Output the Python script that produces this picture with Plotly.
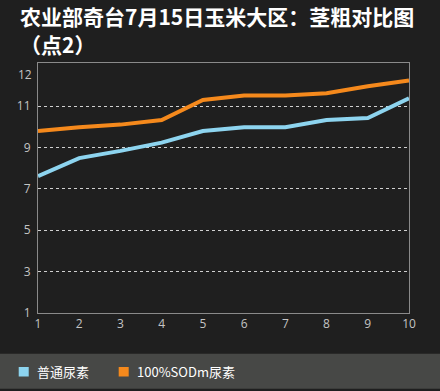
import plotly.graph_objects as go

x_points = [1, 2, 3, 4, 5, 6, 7, 8, 9, 10]
normal_urea = [7.62, 8.49, 8.84, 9.24, 9.80, 9.98, 9.98, 10.33, 10.43, 11.38]
sod_urea = [9.80, 9.98, 10.11, 10.33, 11.30, 11.52, 11.52, 11.63, 11.97, 12.25]
series_names = ["普通尿素", "100%SODm尿素"]
y_ticks = [1, 3, 5, 7, 9, 11]
y_top_label = "12"
title_line1 = "农业部奇台7月15日玉米大区：茎粗对比图"
title_line2 = "（点2）"

BLUE = "#8dd4ef"
ORANGE = "#f5891c"
BG = "#1f1f1f"
TICK = "#c4c4c4"
colors = [BLUE, ORANGE]

fig = go.Figure()
for ys, col, name in zip([normal_urea, sod_urea], colors, series_names):
    fig.add_trace(go.Scatter(x=x_points, y=ys, mode="lines", name=name,
                             line=dict(color=col, width=4), showlegend=False))

# manual legend (squares + labels) in the bottom band
legend_x = [(-0.052, -0.0085), (0.2175, 0.261)]
shapes = [dict(type="rect", xref="paper", yref="paper",
               x0=-0.2, x1=1.2, y0=-0.303, y1=-0.163,
               fillcolor="#474846", line=dict(width=0), layer="below")]
annotations = []
for (sx, tx), col, name in zip(legend_x, colors, series_names):
    shapes.append(dict(type="rect", xref="paper", yref="paper",
                       x0=sx, x1=sx + 0.027, y0=-0.254, y1=-0.216,
                       fillcolor=col, line=dict(width=0)))
    annotations.append(dict(text=name, xref="paper", yref="paper", x=tx, y=-0.2336,
                            xanchor="left", yanchor="middle", showarrow=False,
                            font=dict(family="Noto Sans CJK SC", size=13, color="#ffffff")))

annotations += [
    dict(text=title_line1, xref="paper", yref="paper", x=-0.05, y=1.0,
         xanchor="left", yanchor="bottom", yshift=31, showarrow=False, borderpad=0,
         font=dict(family="Noto Sans CJK SC", size=21, color="#ffffff", weight="bold")),
    dict(text=title_line2, xref="paper", yref="paper", x=-0.05, y=1.0,
         xanchor="left", yanchor="bottom", yshift=3, showarrow=False, borderpad=0,
         font=dict(family="Noto Sans CJK SC", size=21, color="#ffffff", weight="bold")),
    dict(text=y_top_label, xref="paper", yref="paper", x=0, y=1.0,
         xanchor="right", yanchor="top", xshift=-4, yshift=-1, showarrow=False,
         font=dict(family="Open Sans", size=12, color=TICK)),
]

fig.update_layout(
    width=440, height=391,
    margin=dict(l=38, r=31, t=63, b=78, autoexpand=False),
    paper_bgcolor=BG, plot_bgcolor=BG,
    font=dict(family="Noto Sans CJK SC", color=TICK, size=12),
    showlegend=False,
    xaxis=dict(range=[1, 10], tickvals=x_points, showgrid=False, zeroline=False,
               showline=True, mirror=True, linecolor="#8a8a8a", linewidth=1,
               ticks="", tickfont=dict(family="Open Sans", size=12, color=TICK)),
    yaxis=dict(range=[1, 13.09], tickvals=y_ticks, showgrid=True,
               gridcolor="#d0d0d0", griddash="dot", gridwidth=1, zeroline=False,
               showline=True, mirror=True, linecolor="#8a8a8a", linewidth=1,
               ticks="", ticklabelstandoff=4,
               tickfont=dict(family="Open Sans", size=12, color=TICK)),
    shapes=shapes,
    annotations=annotations,
)

fig.write_html("out.html", config={"displayModeBar": False},
               post_script="document.body.style.margin='0';document.body.style.background='#1f1f1f';")
